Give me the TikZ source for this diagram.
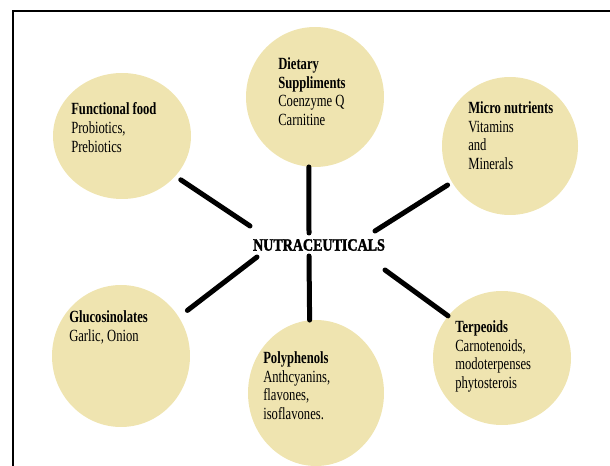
\documentclass[tikz,border=0pt]{standalone}
\usepackage{fontspec}
\setmainfont{Liberation Serif}[FakeStretch=0.74]
\newfontfamily\hubfont{Liberation Serif}[FakeStretch=0.81,FakeBold=1.8]
\usetikzlibrary{shapes.geometric}
\definecolor{blobfill}{RGB}{239,228,176}
\tikzset{
  blob_n/.style 2 args = {ellipse, fill=blobfill, draw=none, inner sep=0pt,
    minimum width=#1*1.5pt, minimum height=#2*1.5pt},
  blob_t/.style = {anchor=north west, align=left, inner sep=0pt,
    font=\fontsize{12.8}{14.2}\selectfont},
  spoke/.style = {line width=3.75pt, line cap=round, black}}

\begin{document}
\begin{tikzpicture}[x=0.75pt, y=-0.75pt]
\useasboundingbox (0,0) rectangle (610,466);
\draw [line width=1.5pt] (13,470) |- (615,11);

\node [blob_n={69}{63}] (ff) at (122,136) {};
\node [blob_n={69}{70}] (ds) at (315,97) {};
\node [blob_n={68}{69}] (mn) at (510,146) {};
\node [blob_n={69}{71}] (gl) at (121,356) {};
\node [blob_n={68}{73}] (pp) at (316,393) {};
\node [blob_n={69}{67}] (tp) at (502,358) {};

\node [blob_t] (ff_t) at (71,102) {\textbf{Functional food}\\Probiotics,\\Prebiotics};
\node [blob_t] (ds_t) at (278,57) {\textbf{Dietary}\\\textbf{Suppliments}\\Coenzyme Q\\Carnitine};
\node [blob_t] (mn_t) at (468,101) {\textbf{Micro nutrients}\\Vitamins\\and\\Minerals};
\node [blob_t] (gl_t) at (69,310) {\textbf{Glucosinolates}\\Garlic, Onion};
\node [blob_t] (pp_t) at (263,351) {\textbf{Polyphenols}\\Anthcyanins,\\flavones,\\isoflavones.};
\node [blob_t] (tp_t) at (455,320) {\textbf{Terpeoids}\\Carnotenoids,\\modoterpenses\\phytosterois};

\node [font=\hubfont\bfseries\fontsize{13}{14}\selectfont] (hub) at (319,245) {NUTRACEUTICALS};

\coordinate (e_ff) at (250,226);
\coordinate (e_ds) at (309,233);
\coordinate (e_mn) at (375,231);
\coordinate (e_gl) at (257,257);
\coordinate (e_pp) at (309,256);
\coordinate (e_tp) at (385,270);

\draw [spoke, shorten <=4.8pt] (ff.-37) -- (e_ff);
\draw [spoke] (ds.-95) -- (e_ds);
\draw [spoke, shorten <=3.8pt] (mn.-148) -- (e_mn);
\draw [spoke, shorten <=8pt] (gl.34) -- (e_gl);
\draw [spoke] (pp.95) -- (e_pp);
\draw [spoke] (tp.142) -- (e_tp);
\end{tikzpicture}
\end{document}
